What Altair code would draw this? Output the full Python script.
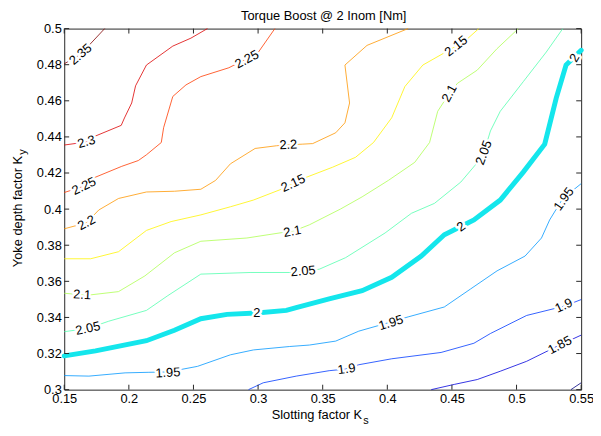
import altair as alt
import pandas as pd

# ---------------- data ----------------
title_text = "Torque Boost @ 2 Inom [Nm]"
x_title = "Slotting factor K"
x_sub = "s"
y_title = "Yoke depth factor K"
y_sub = "y"

x_ticks = [0.15, 0.2, 0.25, 0.3, 0.35, 0.4, 0.45, 0.5, 0.55]
y_ticks = [0.30, 0.32, 0.34, 0.36, 0.38, 0.40, 0.42, 0.44, 0.46, 0.48, 0.50]

levels = ["1.8", "1.85", "1.9", "1.95", "2", "2.05", "2.1", "2.15", "2.2", "2.25", "2.3", "2.35"]
level_colors = ["#000080", "#0000dc", "#003aff", "#0097ff", "#00f3ff", "#51ffae",
                "#aeff51", "#fff300", "#ff9700", "#ff3a00", "#dc0000", "#800000"]

c180_x = [0.5421, 0.5500]
c180_y = [0.3000, 0.3038]

c185_x = [0.4340, 0.4518, 0.4696, 0.4874, 0.5078, 0.5333, 0.5500]
c185_y = [0.3000, 0.3029, 0.3056, 0.3102, 0.3157, 0.3247, 0.3302]

c190_x = [0.2926, 0.3040, 0.3295, 0.3550, 0.3677, 0.3779, 0.4034, 0.4416, 0.4670, 0.4798, 0.5078, 0.5371, 0.5500]
c190_y = [0.3000, 0.3038, 0.3075, 0.3105, 0.3114, 0.3138, 0.3171, 0.3206, 0.3257, 0.3311, 0.3411, 0.3463, 0.3499]

c195_x = [0.1500, 0.1691, 0.1971, 0.2149, 0.2302, 0.2531, 0.2786, 0.2964, 0.3244, 0.3397, 0.3601,
          0.3779, 0.4034, 0.4161, 0.4441, 0.4645, 0.4849, 0.5066, 0.5193, 0.5256, 0.5358, 0.5500]
c195_y = [0.3078, 0.3075, 0.3093, 0.3096, 0.3098, 0.3129, 0.3193, 0.3220, 0.3239, 0.3247, 0.3269,
          0.3324, 0.3376, 0.3403, 0.3458, 0.3558, 0.3658, 0.3740, 0.3840, 0.3940, 0.4059, 0.4141]

c200_x = [0.1500, 0.1742, 0.2136, 0.2353, 0.2557, 0.2760, 0.2990, 0.3219, 0.3295, 0.3550, 0.3805, 0.4034,
          0.4263, 0.4441, 0.4569, 0.4670, 0.4874, 0.5052, 0.5218, 0.5307, 0.5383, 0.5447, 0.5500]
c200_y = [0.3187, 0.3215, 0.3271, 0.3329, 0.3393, 0.3417, 0.3425, 0.3439, 0.3455, 0.3503, 0.3548, 0.3622,
          0.3740, 0.3858, 0.3904, 0.3940, 0.4050, 0.4205, 0.4360, 0.4615, 0.4798, 0.4843, 0.4880]

c205_x = [0.1500, 0.1683, 0.1844, 0.2136, 0.2302, 0.2557, 0.2938, 0.3244, 0.3349, 0.3473, 0.3677,
          0.3983, 0.4187, 0.4365, 0.4569, 0.4678, 0.4747, 0.4798, 0.4874, 0.5052, 0.5230, 0.5358]
c205_y = [0.3321, 0.3339, 0.3379, 0.3439, 0.3521, 0.3640, 0.3649, 0.3649, 0.3656, 0.3667, 0.3731,
          0.3868, 0.3977, 0.4032, 0.4150, 0.4242, 0.4313, 0.4433, 0.4542, 0.4706, 0.4870, 0.5000]

c210_x = [0.1500, 0.1638, 0.1704, 0.1920, 0.2124, 0.2353, 0.2557, 0.2913, 0.3194, 0.3265, 0.3397,
          0.3639, 0.3805, 0.4008, 0.4212, 0.4327, 0.4390, 0.4480, 0.4543, 0.4696, 0.4848, 0.5014]
c210_y = [0.3534, 0.3525, 0.3525, 0.3543, 0.3630, 0.3758, 0.3822, 0.3840, 0.3871, 0.3876, 0.3913,
          0.4001, 0.4068, 0.4159, 0.4259, 0.4369, 0.4542, 0.4641, 0.4697, 0.4770, 0.4888, 0.5000]

c215_x = [0.1500, 0.1704, 0.1920, 0.2136, 0.2327, 0.2557, 0.2786, 0.2963, 0.3194, 0.3272, 0.3372,
          0.3576, 0.3754, 0.3893, 0.4034, 0.4136, 0.4275, 0.4533, 0.4619, 0.4708]
c215_y = [0.3725, 0.3725, 0.3764, 0.3882, 0.3931, 0.3968, 0.4013, 0.4050, 0.4114, 0.4143, 0.4176,
          0.4232, 0.4287, 0.4369, 0.4506, 0.4679, 0.4798, 0.4903, 0.4943, 0.5000]

c220_x = [0.1500, 0.1672, 0.1767, 0.1920, 0.2136, 0.2353, 0.2557, 0.2671, 0.2786, 0.2977,
          0.3142, 0.3234, 0.3346, 0.3423, 0.3601, 0.3672, 0.3708, 0.3672, 0.3843, 0.4161]
c220_y = [0.3891, 0.3924, 0.3995, 0.4059, 0.4095, 0.4099, 0.4110, 0.4159, 0.4251, 0.4336,
          0.4351, 0.4356, 0.4360, 0.4363, 0.4423, 0.4478, 0.4588, 0.4798, 0.4907, 0.5000]

c225_x = [0.1500, 0.1653, 0.1742, 0.1945, 0.2073, 0.2136, 0.2251, 0.2269, 0.2340, 0.2442, 0.2557,
          0.2774, 0.2913, 0.3003, 0.3130]
c225_y = [0.4092, 0.4127, 0.4177, 0.4237, 0.4269, 0.4301, 0.4369, 0.4451, 0.4624, 0.4688, 0.4734,
          0.4783, 0.4834, 0.4870, 0.5000]

c230_x = [0.1500, 0.1672, 0.1742, 0.1941, 0.1966, 0.2022, 0.2052, 0.2136, 0.2340, 0.2480, 0.2608]
c230_y = [0.4355, 0.4372, 0.4405, 0.4464, 0.4505, 0.4588, 0.4683, 0.4798, 0.4903, 0.4947, 0.5000]

c235_x = [0.1500, 0.1626, 0.1813]
c235_y = [0.4805, 0.4857, 0.5000]

# inline contour labels: text, x, y, rotation (degrees, counter-clockwise)
label_text = ["2.35", "2.3", "2.25", "2.25", "2.2", "2.2", "2.15", "2.15", "2.1", "2.1", "2.1",
              "2.05", "2.05", "2.05", "2", "2", "2", "1.95", "1.95", "1.95", "1.9", "1.9", "1.85"]
label_x = [0.1626, 0.1672, 0.1653, 0.2913, 0.1672, 0.3234, 0.3272, 0.4533, 0.1638, 0.3265, 0.4480,
           0.1683, 0.3349, 0.4747, 0.2990, 0.4571, 0.5450, 0.2302, 0.4029, 0.5366, 0.3685, 0.5366, 0.5335]
label_y = [0.4857, 0.4372, 0.4127, 0.4829, 0.3924, 0.4356, 0.4143, 0.4903, 0.3525, 0.3876, 0.4641,
           0.3339, 0.3656, 0.4313, 0.3424, 0.3902, 0.4837, 0.3093, 0.3370, 0.4056, 0.3114, 0.3465, 0.3246]
label_rot = [41, 16, 26, 28, 28, 3, 25, 38, -3, 10, 62,
             12, 5, 70, 0, 35, 60, 3, 17, 55, 8, 25, 28]

# ---------------- build tables ----------------
contours = [
    ("1.8", c180_x, c180_y), ("1.85", c185_x, c185_y), ("1.9", c190_x, c190_y),
    ("1.95", c195_x, c195_y), ("2", c200_x, c200_y), ("2.05", c205_x, c205_y),
    ("2.1", c210_x, c210_y), ("2.15", c215_x, c215_y), ("2.2", c220_x, c220_y),
    ("2.25", c225_x, c225_y), ("2.3", c230_x, c230_y), ("2.35", c235_x, c235_y),
]
rows = []
for lev, xs, ys in contours:
    for i, (xv, yv) in enumerate(zip(xs, ys)):
        rows.append({"level": lev, "x": xv, "y": yv, "i": i})
lines_df = pd.DataFrame(rows)
thin_df = lines_df[lines_df["level"] != "2"]
thick_df = lines_df[lines_df["level"] == "2"]

labels_df = pd.DataFrame({
    "text": label_text, "x": label_x, "y": label_y,
    "angle": [(360 - r) % 360 for r in label_rot],
})
xt_df = pd.DataFrame({"x": x_ticks})
yt_df = pd.DataFrame({"y": y_ticks})
one_df = pd.DataFrame({"a": [0]})

W, H = 524, 366
FONT = "Liberation Sans"
AX = "#262626"

xscale = alt.Scale(domain=[0.15, 0.55], nice=False, zero=False)
yscale = alt.Scale(domain=[0.3, 0.5], nice=False, zero=False)

axis_kw = dict(format="~g", labelPadding=3, title=None, ticks=False, domain=False, grid=False,
               labelFont=FONT, labelFontSize=13, labelColor="black", labelOverlap=False,
               labelFlush=False, labelBound=False)
x_axis = alt.Axis(values=x_ticks, **axis_kw)
y_axis = alt.Axis(values=y_ticks, **axis_kw)

thin = alt.Chart(thin_df).mark_line(strokeWidth=1, strokeOpacity=0.8).encode(
    x=alt.X("x:Q", scale=xscale, axis=x_axis),
    y=alt.Y("y:Q", scale=yscale, axis=y_axis),
    color=alt.Color("level:N", scale=alt.Scale(domain=levels, range=level_colors), legend=None),
    detail="level:N",
    order="i:Q",
)
thick = alt.Chart(thick_df).mark_line(strokeWidth=5, color="#14e6ec", strokeCap="round").encode(
    x=alt.X("x:Q", axis=x_axis), y=alt.Y("y:Q", axis=y_axis), order="i:Q",
)
halo = alt.Chart(labels_df).mark_text(
    font=FONT, fontSize=13, align="center", baseline="middle",
    fill="white", stroke="white", strokeWidth=5, strokeJoin="round",
).encode(x=alt.X("x:Q", axis=x_axis), y=alt.Y("y:Q", axis=y_axis), text="text:N",
         angle=alt.Angle("angle:Q", scale=None))
labels = alt.Chart(labels_df).mark_text(
    font=FONT, fontSize=13, align="center", baseline="middle", color="black",
).encode(x=alt.X("x:Q", axis=x_axis), y=alt.Y("y:Q", axis=y_axis), text="text:N",
         angle=alt.Angle("angle:Q", scale=None))

tick_b = alt.Chart(xt_df).mark_rule(color=AX).encode(
    x=alt.X("x:Q", axis=x_axis), y=alt.value(H), y2=alt.value(H - 5))
tick_t = alt.Chart(xt_df).mark_rule(color=AX).encode(
    x=alt.X("x:Q", axis=x_axis), y=alt.value(0), y2=alt.value(5))
tick_l = alt.Chart(yt_df).mark_rule(color=AX).encode(
    y=alt.Y("y:Q", axis=y_axis), x=alt.value(0), x2=alt.value(5))
tick_r = alt.Chart(yt_df).mark_rule(color=AX).encode(
    y=alt.Y("y:Q", axis=y_axis), x=alt.value(W), x2=alt.value(W - 5))

t_title = alt.Chart(one_df).mark_text(font=FONT, fontSize=13, align="center", baseline="alphabetic",
                                      color="black").encode(
    x=alt.value(W / 2 + 1), y=alt.value(-9), text=alt.value(title_text))
t_x = alt.Chart(one_df).mark_text(font=FONT, fontSize=13, align="right", baseline="alphabetic",
                                  color="black").encode(
    x=alt.value(302), y=alt.value(396), text=alt.value(x_title))
t_xs = alt.Chart(one_df).mark_text(font=FONT, fontSize=11, align="left", baseline="alphabetic",
                                   color="black").encode(
    x=alt.value(303), y=alt.value(401), text=alt.value(x_sub))
t_y = alt.Chart(one_df).mark_text(font=FONT, fontSize=13, align="right", baseline="alphabetic",
                                  color="black", angle=270).encode(
    x=alt.value(-42.5), y=alt.value(129), text=alt.value(y_title))
t_ys = alt.Chart(one_df).mark_text(font=FONT, fontSize=11, align="left", baseline="alphabetic",
                                   color="black", angle=270).encode(
    x=alt.value(-39), y=alt.value(128), text=alt.value(y_sub))

chart = alt.layer(
    thin, thick, halo, labels, tick_b, tick_t, tick_l, tick_r,
    t_title, t_x, t_xs, t_y, t_ys,
).properties(
    width=W, height=H,
    background="white",
    autosize=alt.AutoSizeParams(type="none"),
    padding={"left": 57, "top": 18, "right": 12, "bottom": 36},
).configure_view(stroke=AX, strokeWidth=1)

chart.save("out.html", embed_options={"renderer": "svg", "actions": False})
